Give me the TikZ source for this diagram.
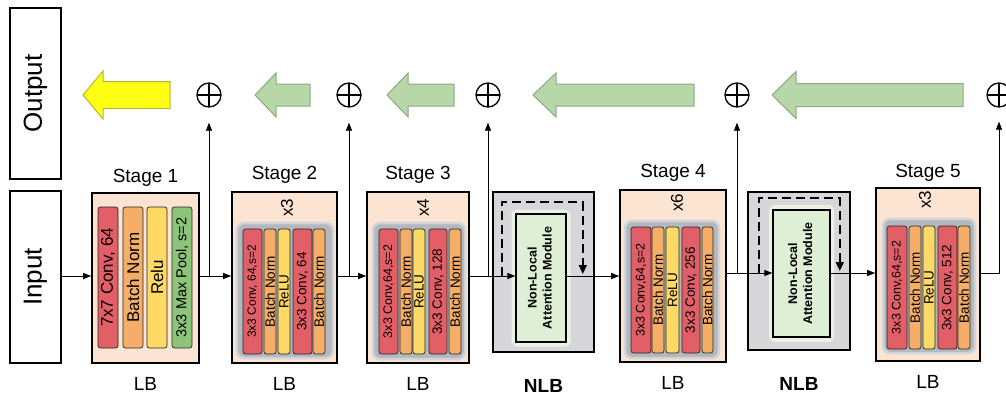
\documentclass[tikz,border=0pt]{standalone}
\usepackage{fontspec}
\setmainfont{Liberation Sans}
\usetikzlibrary{arrows.meta,positioning,calc}

\definecolor{stagefill}{HTML}{FBE4D2}
\definecolor{convred}{HTML}{E35F68}
\definecolor{bnorange}{HTML}{F5AE68}
\definecolor{reluyellow}{HTML}{FFD966}
\definecolor{poolgreen}{HTML}{8CC47A}
\definecolor{blockgray}{HTML}{B3B8BF}
\definecolor{blockedge}{HTML}{D2D4D8}
\definecolor{nlbgray}{HTML}{D7D7D9}
\definecolor{attnfill}{HTML}{DEEFD6}
\definecolor{attnglow}{HTML}{E9F2E3}
\definecolor{sumgreen}{HTML}{B7D7A8}
\definecolor{sumgreenedge}{HTML}{8DA985}
\definecolor{outyellow}{HTML}{FFFF14}
\definecolor{outyellowedge}{HTML}{B5B53A}

\newcommand{\setfs}[1]{\fontsize{#1}{#1}\selectfont}

\tikzstyle{iobox} = [draw=black, line width=1.6pt, fill=white, inner sep=0pt, font=\setfs{26}]
\tikzstyle{stagebox} = [draw=black, line width=1.6pt, fill=stagefill, inner sep=0pt]
\tikzstyle{nlbbox} = [draw=black, line width=1.6pt, fill=nlbgray, inner sep=0pt]
\tikzstyle{repbox} = [draw=blockedge, line width=2.5pt, fill=blockgray, rounded corners=7pt, inner sep=0pt]
\tikzstyle{layer} = [draw=black!85, line width=0.7pt, rounded corners=2.5pt, rotate=90,
    inner sep=0pt, font=\setfs{13.5}]
\tikzstyle{conv} = [layer, fill=convred]
\tikzstyle{bn} = [layer, fill=bnorange]
\tikzstyle{relu} = [layer, fill=reluyellow]
\tikzstyle{pool} = [layer, fill=poolgreen]
\tikzstyle{attn} = [draw=black, line width=1.3pt, fill=attnfill, inner sep=0pt,
    font=\bfseries\fontsize{12.5}{15}\selectfont]
\tikzstyle{glow} = [fill=attnglow, rounded corners=6pt, inner sep=0pt]
\tikzstyle{sum} = [circle, draw=black, line width=1.3pt, minimum size=24pt, inner sep=0pt,
    path picture={\draw[line width=1.3pt] (path picture bounding box.north) -- (path picture bounding box.south)
    (path picture bounding box.west) -- (path picture bounding box.east);}]
\tikzstyle{stagelabel} = [inner sep=0pt, font=\setfs{19}]
\tikzstyle{blocklabel} = [inner sep=0pt, font=\setfs{19}]
\tikzstyle{replabel} = [inner sep=0pt, rotate=90, font=\setfs{17}]
\tikzstyle{flow} = [line width=0.8pt, -{Triangle[length=8pt,width=6pt]}]
\tikzstyle{skip} = [line width=1.6pt, dash pattern=on 9pt off 5pt, -{Triangle[length=9pt,width=8pt]}]
\tikzstyle{greenarrow} = [fill=sumgreen, draw=sumgreenedge, line width=1pt]
\tikzstyle{yellowarrow} = [fill=outyellow, draw=outyellowedge, line width=1pt]

\begin{document}
\begin{tikzpicture}[x=1pt, y=-1pt]
    \useasboundingbox (0,0) rectangle (1006,397);
    \coordinate (r1) at (0,276);
    \coordinate (r2) at (0,273);

    % input / output
    \node[iobox, minimum width=51pt, minimum height=171pt] (out) at (35.5,93.5) {\rotatebox{90}{Output}};
    \node[iobox, minimum width=51pt, minimum height=172pt] (in) at (35.5,277) {\rotatebox{90}{Input}};

    % stage 1
    \node[stagebox, minimum width=107pt, minimum height=170pt] (s1) at (145.5,278) {};
    \node[conv, minimum width=141pt, minimum height=20pt, font=\setfs{17}] (c11) at (108,277.5) {7x7 Conv, 64};
    \node[bn, minimum width=141pt, minimum height=20pt, font=\setfs{17}] (b11) at (133,277.5) {Batch Norm};
    \node[relu, minimum width=141pt, minimum height=20pt, font=\setfs{17}] (r11) at (157,277.5) {Relu};
    \node[pool, minimum width=141pt, minimum height=20pt, font=\setfs{14.5}] (m11) at (182,277.5) {3x3 Max Pool, s=2};
    \node[stagelabel, above=6pt of s1] (t1) {Stage 1};
    \node[blocklabel, below=13pt of s1] (lb1) {LB};

    % stage 2
    \node[stagebox, minimum width=105pt, minimum height=171pt] (s2) at (284.5,277.5) {};
    \node[repbox, minimum width=96pt, minimum height=135pt] (g2) at (285,290.5) {};
    \node[replabel] (x2) at (287,208) {x3};
    \node[conv, minimum width=125pt, minimum height=19pt, font=\setfs{12}] (c21) at (252.5,291.5) {3x3 Conv, 64,s=2};
    \node[bn, minimum width=125pt, minimum height=12pt] (b21) at (270,291.5) {Batch Norm};
    \node[relu, minimum width=125pt, minimum height=12pt] (r21) at (284,291.5) {ReLU};
    \node[conv, minimum width=125pt, minimum height=19pt] (c22) at (302.5,291.5) {3x3 Conv, 64};
    \node[bn, minimum width=125pt, minimum height=12pt] (b22) at (319,291.5) {Batch Norm};
    \node[stagelabel, above=8pt of s2] (t2) {Stage 2};
    \node[blocklabel, below=13pt of s2] (lb2) {LB};

    % stage 3
    \node[stagebox, minimum width=102pt, minimum height=171pt] (s3) at (418,277.5) {};
    \node[repbox, minimum width=92pt, minimum height=136pt] (g3) at (419,291) {};
    \node[replabel] (x3) at (423,208) {x4};
    \node[conv, minimum width=125pt, minimum height=19pt, font=\setfs{12.5}] (c31) at (388.5,291.5) {3x3 Conv,64,s=2};
    \node[bn, minimum width=125pt, minimum height=12pt] (b31) at (406,291.5) {Batch Norm};
    \node[relu, minimum width=125pt, minimum height=12pt] (r31) at (419,291.5) {ReLU};
    \node[conv, minimum width=125pt, minimum height=18pt] (c32) at (438,291.5) {3x3 Conv, 128};
    \node[bn, minimum width=125pt, minimum height=12pt] (b32) at (455,291.5) {Batch Norm};
    \node[stagelabel, above=8pt of s3] (t3) {Stage 3};
    \node[blocklabel, below=13pt of s3] (lb3) {LB};

    % first non-local block
    \node[nlbbox, minimum width=101pt, minimum height=160pt] (n1) at (543.5,272) {};
    \node[glow, minimum width=59pt, minimum height=137pt] (w1) at (541,278) {};
    \node[attn, minimum width=50pt, minimum height=128pt] (a1) at (541,278)
        {\rotatebox{90}{\begin{tabular}{@{}c@{}}Non-Local\\Attention Module\end{tabular}}};
    \node[blocklabel, font=\bfseries\setfs{19}, below=26pt of n1] (nb1) {NLB};

    % stage 4
    \node[stagebox, minimum width=106pt, minimum height=172pt] (s4) at (673,276) {};
    \node[repbox, minimum width=94pt, minimum height=137pt] (g4) at (672,289.5) {};
    \node[replabel] (x4) at (677,203) {x6};
    \node[conv, minimum width=126pt, minimum height=20pt, font=\setfs{12.5}] (c41) at (641,290) {3x3 Conv,64,s=2};
    \node[bn, minimum width=126pt, minimum height=12pt] (b41) at (658,290) {Batch Norm};
    \node[relu, minimum width=126pt, minimum height=13pt] (r41) at (672.5,290) {ReLU};
    \node[conv, minimum width=126pt, minimum height=18pt] (c42) at (691,290) {3x3 Conv, 256};
    \node[bn, minimum width=126pt, minimum height=11pt] (b42) at (707.5,290) {Batch Norm};
    \node[stagelabel, above=8pt of s4] (t4) {Stage 4};
    \node[blocklabel, below=13pt of s4] (lb4) {LB};

    % second non-local block
    \node[nlbbox, minimum width=102pt, minimum height=158pt] (n2) at (799,271) {};
    \node[glow, minimum width=65pt, minimum height=137pt] (w2) at (801.5,273.5) {};
    \node[attn, minimum width=57pt, minimum height=127pt] (a2) at (801.5,273.5)
        {\rotatebox{90}{\begin{tabular}{@{}c@{}}Non-Local\\Attention Module\end{tabular}}};
    \node[blocklabel, font=\bfseries\setfs{19}, below=26pt of n2] (nb2) {NLB};

    % stage 5
    \node[stagebox, minimum width=104pt, minimum height=173pt] (s5) at (928,274.5) {};
    \node[repbox, minimum width=92pt, minimum height=134pt] (g5) at (929,286) {};
    \node[replabel] (x5) at (925,200) {x3};
    \node[conv, minimum width=123pt, minimum height=20pt, font=\setfs{12.5}] (c51) at (897,287.5) {3x3 Conv,64,s=2};
    \node[bn, minimum width=123pt, minimum height=12pt] (b51) at (915,287.5) {Batch Norm};
    \node[relu, minimum width=123pt, minimum height=12pt] (r51) at (929,287.5) {ReLU};
    \node[conv, minimum width=123pt, minimum height=19pt] (c52) at (947.5,287.5) {3x3 Conv, 512};
    \node[bn, minimum width=123pt, minimum height=12pt] (b52) at (964,287.5) {Batch Norm};
    \node[stagelabel, above=6pt of s5] (t5) {Stage 5};
    \node[blocklabel, below=13pt of s5] (lb5) {LB};

    % sums
    \node[sum] (p1) at (209,95) {};
    \node[sum] (p2) at (349,95) {};
    \node[sum] (p3) at (488,95) {};
    \node[sum] (p4) at (737,95) {};
    \node[sum] (p5) at (999,95) {};

    % upsampling arrows
    \draw[yellowarrow] (83,95) -- (103,71) -- (103,81.5) -- (170,81.5) -- (170,108.5) -- (103,108.5) -- (103,119) -- cycle;
    \draw[greenarrow] (255,95) -- (276,73) -- (276,84) -- (310,84) -- (310,106) -- (276,106) -- (276,117) -- cycle;
    \draw[greenarrow] (387,95) -- (408,73) -- (408,84) -- (454,84) -- (454,106) -- (408,106) -- (408,117) -- cycle;
    \draw[greenarrow] (533,95) -- (556,73) -- (556,84) -- (694,84) -- (694,106) -- (556,106) -- (556,117) -- cycle;
    \draw[greenarrow] (772,95) -- (796,71.5) -- (796,83.5) -- (963,83.5) -- (963,106.5) -- (796,106.5) -- (796,118.5) -- cycle;

    % main path
    \draw[flow] (in.east |- r1) -- (s1.west |- r1);
    \draw[flow] (s1.east |- r1) -- (s2.west |- r1);
    \draw[flow] (s2.east |- r1) -- (s3.west |- r1);
    \draw[flow] (s3.east |- r1) -- (a1.west |- r1);
    \draw[flow] (a1.east |- r1) -- (s4.west |- r1);
    \draw[flow] (s4.east |- r2) -- (a2.west |- r2);
    \draw[flow] (a2.east |- r2) -- (s5.west |- r2);
    \draw[flow, shorten >=14pt] (s5.east |- r2) -| (p5);

    % side outputs
    \draw[flow, shorten >=15pt] (p1 |- r1) -- (p1);
    \draw[flow, shorten >=15pt] (p2 |- r1) -- (p2);
    \draw[flow, shorten >=15pt] (p3 |- r1) -- (p3);
    \draw[flow, shorten >=15pt] (p4 |- r2) -- (p4);

    % skip connections
    \draw[skip] ($(n1.west |- r1)+(10,0)$) |- ([yshift=-11pt]n1.north) -| ($(n1.east |- r1)+(-12,-2)$);
    \draw[skip] ($(n2.west |- r2)+(12,0)$) |- ([yshift=-7pt]n2.north) -| ($(n2.east |- r2)+(-11,-2)$);
\end{tikzpicture}
\end{document}
